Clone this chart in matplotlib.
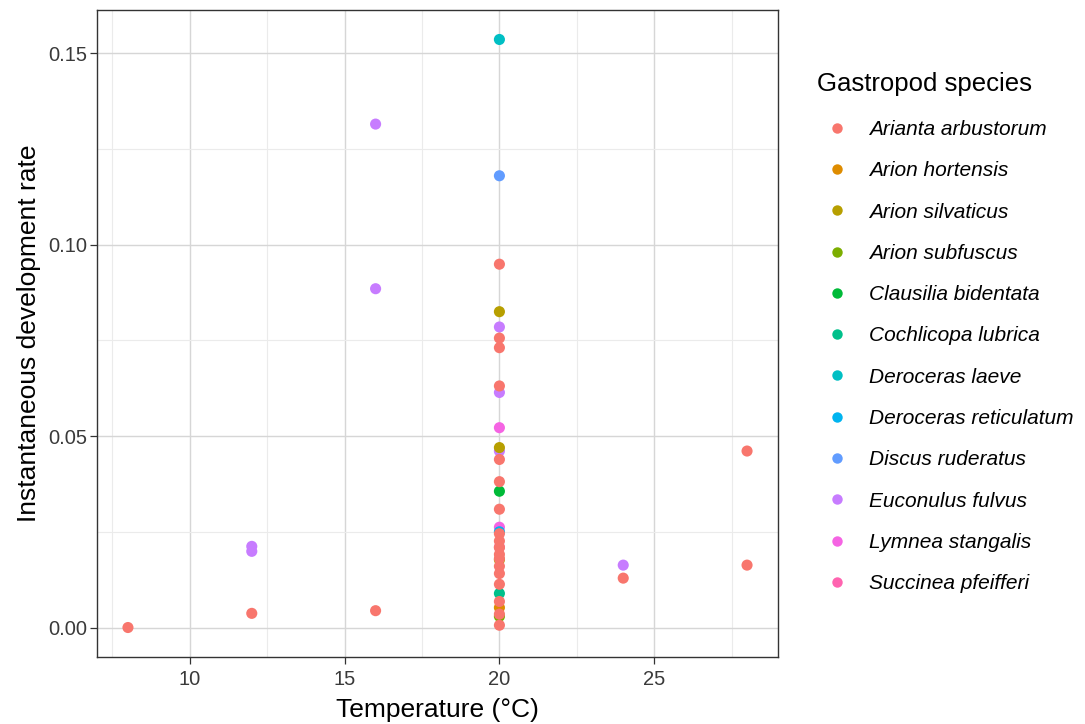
import matplotlib
matplotlib.use("Agg")
import matplotlib.pyplot as plt
from matplotlib.lines import Line2D
from matplotlib.ticker import MultipleLocator

plt.rcParams["font.family"] = ["Liberation Sans", "DejaVu Sans"]

species_order = [
    "Arianta arbustorum", "Arion hortensis", "Arion silvaticus", "Arion subfuscus",
    "Clausilia bidentata", "Cochlicopa lubrica", "Deroceras laeve",
    "Deroceras reticulatum", "Discus ruderatus", "Euconulus fulvus",
    "Lymnea stangalis", "Succinea pfeifferi",
]
species_colors = [
    "#F8766D", "#DE8C00", "#B79F00", "#7CAE00", "#00BA38", "#00C08B",
    "#00BFC4", "#00B4F0", "#619CFF", "#C77CFF", "#F564E3", "#FF64B0",
]

# observations: species, temperature (°C), instantaneous development rate
species = (
    ["Arianta arbustorum"] * 24
    + ["Arion hortensis"]
    + ["Arion silvaticus"] * 3
    + ["Arion subfuscus"]
    + ["Clausilia bidentata"]
    + ["Cochlicopa lubrica"]
    + ["Deroceras laeve"]
    + ["Deroceras reticulatum"]
    + ["Discus ruderatus"]
    + ["Euconulus fulvus"] * 8
    + ["Lymnea stangalis"] * 2
    + ["Succinea pfeifferi"]
)
temperature = (
    [8, 12, 16, 24, 28, 28,
     20, 20, 20, 20, 20, 20, 20, 20, 20, 20, 20, 20, 20, 20, 20, 20, 20, 20]
    + [20]
    + [20, 20, 20]
    + [20]
    + [20]
    + [20]
    + [20]
    + [20]
    + [20]
    + [12, 12, 16, 16, 20, 20, 20, 24]
    + [20, 20]
    + [20]
)
rate = (
    [0.0000, 0.0037, 0.0044, 0.0129, 0.0461, 0.0163,
     0.0949, 0.0756, 0.0731, 0.0631, 0.0439, 0.0381, 0.0309, 0.0245, 0.0226,
     0.0209, 0.0191, 0.0180, 0.0141, 0.0113, 0.0068, 0.0035, 0.0006, 0.0160]
    + [0.0052]
    + [0.0825, 0.0470, 0.0177]
    + [0.0029]
    + [0.0356]
    + [0.0089]
    + [0.1536]
    + [0.0250]
    + [0.1180]
    + [0.0212, 0.0199, 0.1315, 0.0885, 0.0785, 0.0614, 0.0461, 0.0163]
    + [0.0522, 0.0262]
    + [0.0210]
)

fig = plt.figure(figsize=(10.85, 7.24), dpi=100)
ax = fig.add_axes([97 / 1085, 67 / 724, 681 / 1085, 647 / 724])

color_of = dict(zip(species_order, species_colors))
# later species first so that earlier ones sit on top
for sp in reversed(species_order):
    xs = [t for s, t in zip(species, temperature) if s == sp]
    ys = [r for s, r in zip(species, rate) if s == sp]
    ax.scatter(xs, ys, s=64, color=color_of[sp], edgecolors="none", zorder=3)

ax.set_xlim(7, 29)
ax.set_ylim(-0.0077, 0.1613)
ax.xaxis.set_major_locator(MultipleLocator(5))
ax.xaxis.set_minor_locator(MultipleLocator(2.5))
ax.yaxis.set_major_locator(MultipleLocator(0.05))
ax.yaxis.set_minor_locator(MultipleLocator(0.025))
ax.yaxis.set_major_formatter(plt.FuncFormatter(lambda v, p: f"{v:.2f}"))

ax.grid(which="major", color="#d6d6d6", linewidth=1.0, zorder=0)
ax.grid(which="minor", color="#ebebeb", linewidth=0.8, zorder=0)
ax.set_axisbelow(True)
for sp_ in ax.spines.values():
    sp_.set_color("#333333")
    sp_.set_linewidth(1.0)
ax.tick_params(which="major", length=5, width=0.9, color="#333333",
               labelsize=14.5, labelcolor="#3a3a3a")
ax.tick_params(axis="x", pad=4.5)
ax.tick_params(axis="y", pad=2)
ax.tick_params(which="minor", length=0)

ax.set_xlabel("Temperature (°C)", fontsize=19, labelpad=6)
ax.set_ylabel("Instantaneous development rate", fontsize=19, labelpad=5)

fig.text(817 / 1085, 1 - 84 / 724, "Gastropod species", fontsize=18.5,
         ha="left", va="center")

handles = [Line2D([0], [0], marker="o", linestyle="none", markersize=7.5,
                  markerfacecolor=c, markeredgecolor="none") for c in species_colors]
leg = fig.legend(handles, species_order, loc="upper left",
                 bbox_to_anchor=(824 / 1085, 1 - 120 / 724),
                 frameon=False, prop={"size": 15, "style": "italic"},
                 labelspacing=1.07, handletextpad=0.97, handlelength=1.2,
                 borderaxespad=0, borderpad=0)

fig.savefig("out.png", dpi=100)
